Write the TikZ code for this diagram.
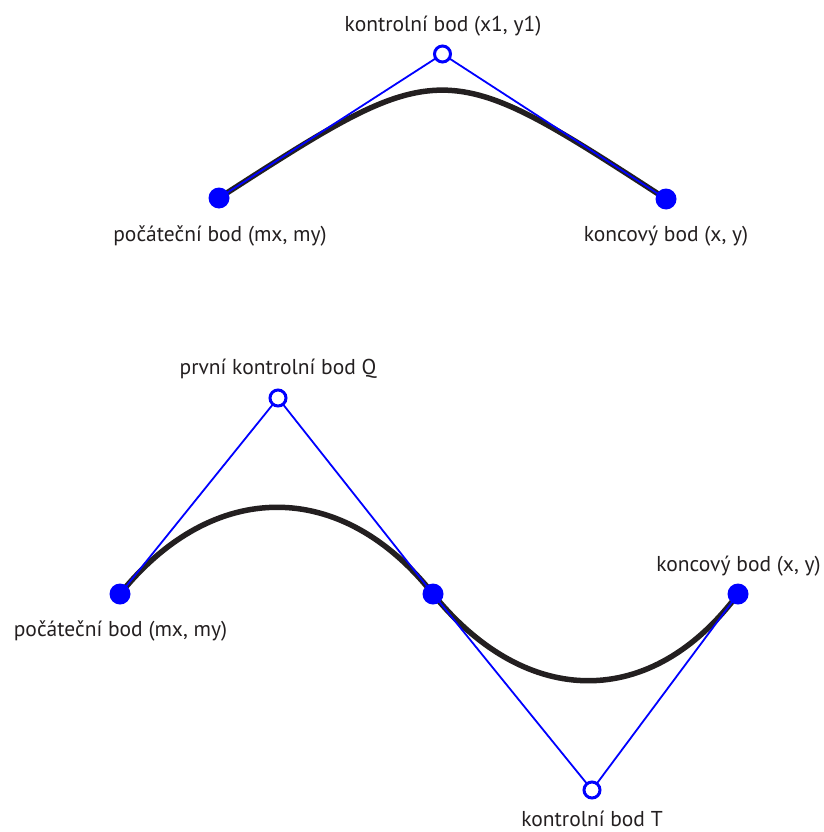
\documentclass[tikz,border=0pt]{standalone}
\usepackage{fontspec}
\setmainfont{PT Sans}
\usetikzlibrary{calc}
\definecolor{ink}{HTML}{231F20}
\definecolor{hullblue}{RGB}{0,0,255}
\begin{document}
\begin{tikzpicture}[x=1pt,y=-1pt,
  curve/.style={draw=ink,line width=5.5pt},
  hull/.style={draw=hullblue,line width=1.8pt},
  endpt/.style={circle,fill=hullblue,inner sep=0pt,minimum size=21pt},
  ctrlpt/.style={circle,draw=hullblue,fill=white,line width=3pt,inner sep=0pt,minimum size=16pt},
  lbl/.style={font=\fontsize{21.5}{25}\selectfont,text=ink,anchor=base,inner sep=0pt}]
\useasboundingbox (0,0) rectangle (823,832);
% top quadratic
\coordinate (ts) at (219,198);
\coordinate (tc) at (442.5,54);
\coordinate (te) at (666,199);
% bottom cubic
\coordinate (bs) at (120,594);
\coordinate (bq) at (278,398);
\coordinate (bm) at (433,594);
\coordinate (bt) at (592,790);
\coordinate (be) at (738,594);

\draw[curve] (ts) .. controls (tc) and (tc) .. (te);
\draw[curve] (bs) .. controls ($(bs)!0.59!(bq)$) and ($(bm)!0.59!(bq)$) .. (bm)
  .. controls ($(bm)!0.59!(bt)$) and ($(be)!0.59!(bt)$) .. (be);

\draw[hull] (ts) -- (tc) -- (te);
\draw[hull] (bs) -- (bq) -- (bm) -- (bt) -- (be);

\node[endpt] (n1) at (ts) {};
\node[endpt] (n2) at (te) {};
\node[ctrlpt] (n3) at (tc) {};
\node[endpt] (n4) at (bs) {};
\node[endpt] (n5) at (bm) {};
\node[endpt] (n6) at (be) {};
\node[ctrlpt] (n7) at (bq) {};
\node[ctrlpt] (n8) at (bt) {};

\node[lbl] (l1) at (443,32) {kontrolní bod (x1, y1)};
\node[lbl] (l2) at (220,241) {počáteční bod (mx, my)};
\node[lbl] (l3) at (666,241) {koncový bod (x, y)};
\node[lbl] (l4) at (278,374) {první kontrolní bod Q};
\node[lbl] (l5) at (120.5,636) {počáteční bod (mx, my)};
\node[lbl] (l6) at (738.5,571) {koncový bod (x, y)};
\node[lbl] (l7) at (592,826.5) {kontrolní bod T};
\end{tikzpicture}
\end{document}
